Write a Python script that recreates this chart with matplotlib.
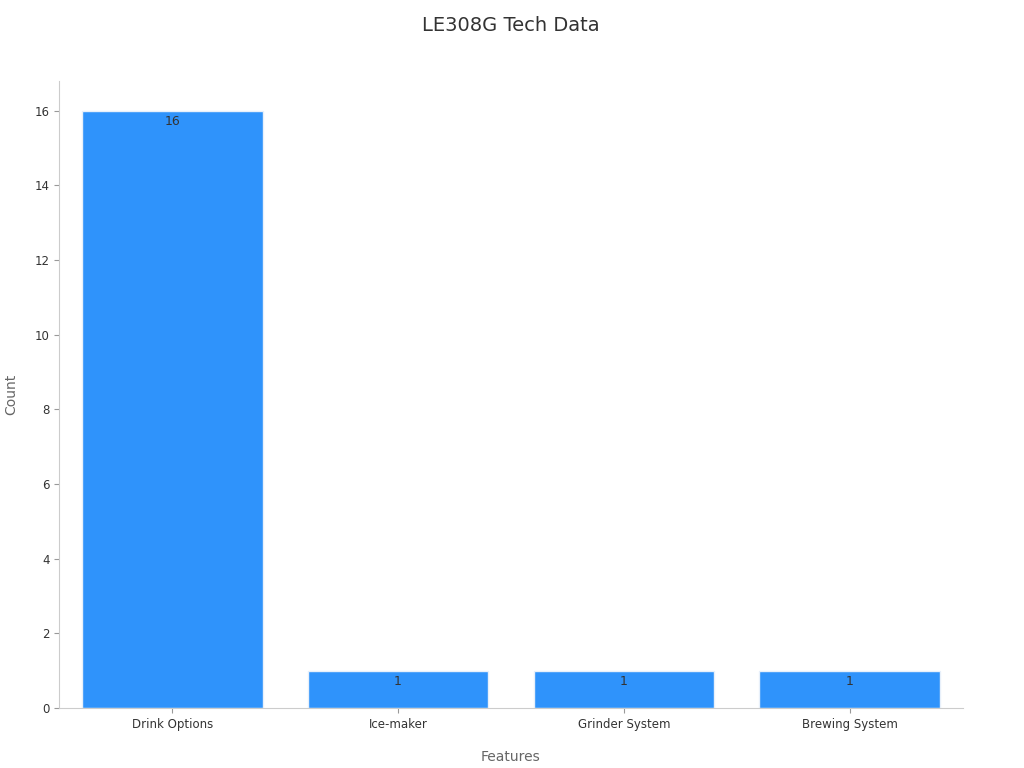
import matplotlib
matplotlib.use("Agg")
import matplotlib.pyplot as plt

features = ["Drink Options", "Ice-maker", "Grinder System", "Brewing System"]
counts = [16, 1, 1, 1]

fig, ax = plt.subplots(figsize=(10.24, 7.68), dpi=100)
fig.subplots_adjust(left=0.058, right=0.94, top=0.895, bottom=0.078)

bars = ax.bar(features, counts, width=0.8, color="#2f93fb", edgecolor="#e8f0fa", linewidth=1)
for b, v in zip(bars, counts):
    ax.text(b.get_x() + b.get_width() / 2, v - 0.12, str(v), ha="center", va="top",
            fontsize=9, color="#333333")

ax.set_xlim(-0.5, 3.5)
ax.set_ylim(0, 16.8)
ax.set_yticks(range(0, 17, 2))
ax.set_title("LE308G Tech Data", fontsize=14, color="#333333", pad=36)
ax.set_xlabel("Features", fontsize=10, color="#666666", labelpad=14)
ax.set_ylabel("Count", fontsize=10, color="#666666", labelpad=12)
ax.tick_params(labelsize=8.5, colors="#333333")
ax.tick_params(color="#999999")
for s in ["top", "right"]:
    ax.spines[s].set_visible(False)
for s in ["left", "bottom"]:
    ax.spines[s].set_color("#cccccc")

fig.savefig("out.png")
